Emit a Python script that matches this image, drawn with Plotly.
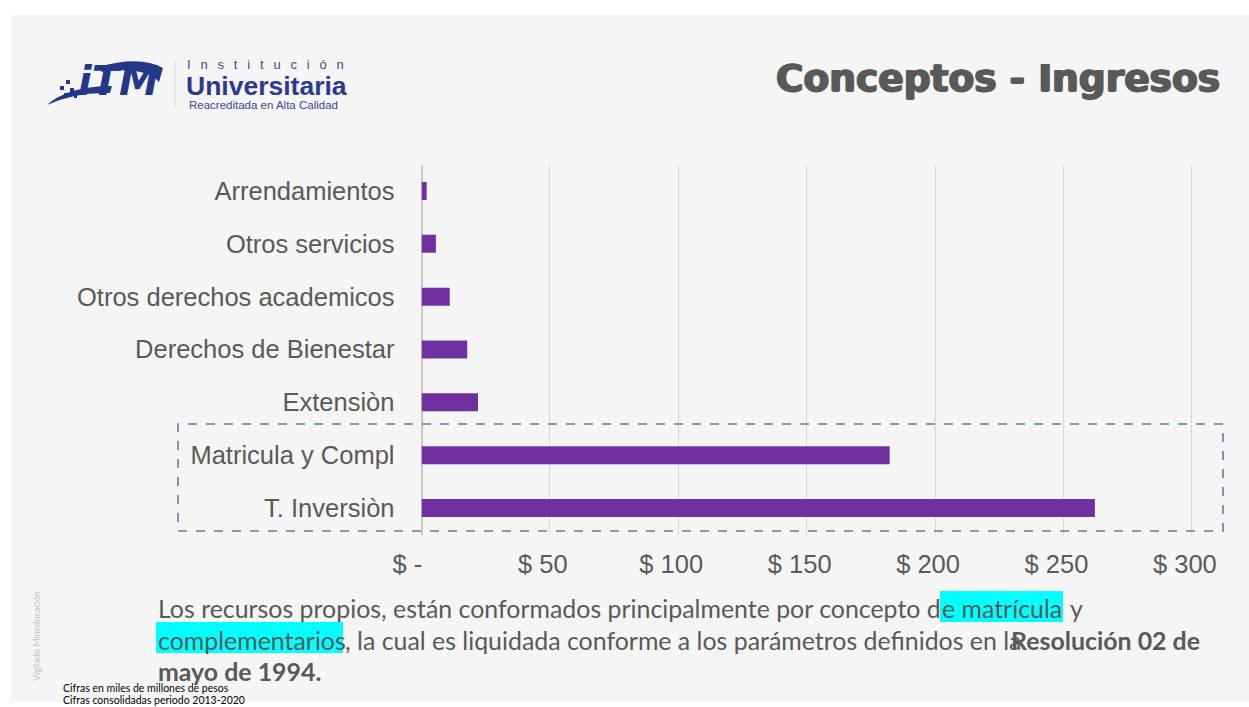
import plotly.graph_objects as go

W, H = 1249, 707

categories = ["Arrendamientos", "Otros servicios", "Otros derechos academicos",
              "Derechos de Bienestar", "Extensiòn", "Matricula y Compl", "T. Inversiòn"]
values = [2.0, 5.6, 11.0, 17.8, 22.0, 182.3, 262.2]
tick_vals = [0, 50, 100, 150, 200, 250, 300]
tick_text = ["$ -", "$ 50", "$ 100", "$ 150", "$ 200", "$ 250", "$ 300"]


def px(x):
    return x / W


def py(y):
    return 1 - y / H


TXT = "#595959"
NB = "\u00a0"
fig = go.Figure()
fig.add_trace(go.Bar(
    x=values, y=categories, orientation="h",
    marker=dict(color="#7030A0", line=dict(width=0)),
    hoverinfo="x+y",
))

# accounting-format padding (Excel right-pads these labels)
tick_disp = [t + NB * (4 if t.endswith("-") else 2) for t in tick_text]

x0p, x300p = 421.5, 1192.0
fig.update_layout(
    width=W, height=H,
    margin=dict(l=0, r=0, t=0, b=0),
    paper_bgcolor="white",
    plot_bgcolor="rgba(0,0,0,0)",
    showlegend=False,
    bargap=0.66,
    xaxis=dict(
        domain=[px(x0p), px(x300p + 1.5)],
        range=[0, 300.6],
        tickvals=tick_vals, ticktext=tick_disp,
        showgrid=True, gridcolor="#D9D9D9", gridwidth=1,
        zeroline=True, zerolinecolor="#C8C8C8", zerolinewidth=2,
        showline=False, ticks="",
        tickfont=dict(family="Liberation Sans, Arial, sans-serif", size=25.5, color=TXT),
        ticklabelstandoff=12,
        automargin=False, fixedrange=True,
    ),
    yaxis=dict(
        domain=[py(534.5), py(164.5)],
        range=[6.5, -0.5],
        type="category",
        showgrid=False, zeroline=False, showline=False, ticks="",
        tickfont=dict(family="Liberation Sans, Arial, sans-serif", size=25.5, color=TXT),
        ticklabelstandoff=26,
        automargin=False, fixedrange=True,
    ),
)

NAVY = "#24388A"
shapes = []
# slide background
shapes.append(dict(type="rect", xref="paper", yref="paper",
                   x0=px(11), x1=px(1249), y0=py(702), y1=py(15),
                   fillcolor="#F5F5F5", line=dict(width=0), layer="below"))
# dashed highlight box
shapes.append(dict(type="rect", xref="paper", yref="paper",
                   x0=px(178), x1=px(1223), y0=py(531), y1=py(424),
                   fillcolor="rgba(0,0,0,0)",
                   line=dict(color="#5A7FA8", width=1.6, dash="dash"), layer="above"))
# cyan highlights
shapes.append(dict(type="rect", xref="paper", yref="paper",
                   x0=px(940), x1=px(1063), y0=py(622), y1=py(591),
                   fillcolor="#00FFFF", line=dict(width=0), layer="below"))
shapes.append(dict(type="rect", xref="paper", yref="paper",
                   x0=px(156), x1=px(343), y0=py(653), y1=py(622),
                   fillcolor="#00FFFF", line=dict(width=0), layer="below"))
# logo divider
shapes.append(dict(type="line", xref="paper", yref="paper",
                   x0=px(175), x1=px(175), y0=py(108), y1=py(60),
                   line=dict(color="#D8D8D8", width=1)))


def pathstr(cmds):
    out = []
    for c in cmds:
        if isinstance(c, str):
            out.append(c)
        else:
            out.append("{:.5f},{:.5f}".format(px(c[0]), py(c[1])))
    return " ".join(out)


# logo swoosh (lower-left crescent)
sw1 = pathstr(["M", (47, 105), "Q", (68, 86), (112, 86), "L", (110, 93),
               "Q", (75, 92), (47, 105), "Z"])
# logo swoosh (upper-right arc)
sw2 = pathstr(["M", (98, 67), "Q", (140, 55), (163, 68), "L", (159, 82),
               "Q", (145, 66), (102, 72), "Z"])
for p in (sw1, sw2):
    shapes.append(dict(type="path", xref="paper", yref="paper", path=p,
                       fillcolor=NAVY, line=dict(width=0)))
# small pixel squares of the logo
for (sx, sy, s) in [(66, 80, 4), (60, 86, 4), (70, 88, 4), (64, 93, 3), (74, 95, 3)]:
    shapes.append(dict(type="rect", xref="paper", yref="paper",
                       x0=px(sx), x1=px(sx + s), y0=py(sy + s), y1=py(sy),
                       fillcolor=NAVY, line=dict(width=0)))
fig.update_layout(shapes=shapes)

ann = []


def add_text(x, y, text, size, color=TXT, family="Lato, sans-serif", xanchor="left",
             weight=None, textangle=0, shadow=None):
    f = dict(family=family, size=size, color=color)
    if weight:
        f["weight"] = weight
    if shadow:
        f["shadow"] = shadow
    ann.append(dict(xref="paper", yref="paper", x=px(x), y=py(y), text=text,
                    showarrow=False, xanchor=xanchor, yanchor="middle",
                    font=f, textangle=textangle))


# title (heavy, Arial-Black-like)
add_text(1222, 78, "Conceptos - Ingresos", 37.5, color="#595959",
         family="DejaVu Sans, sans-serif", xanchor="right", weight=900,
         shadow="1px 0 0 #595959, -1px 0 0 #595959, 0 1px 0 #595959")

# logo texts
add_text(76, 81, "<i><b>iTM</b></i>", 40, color=NAVY,
         family="DejaVu Sans, sans-serif")
add_text(185, 64, (NB * 2 + "\u2009").join("Institución"), 13, color="#3A4A8C",
         family="Liberation Sans, Arial, sans-serif")
add_text(184, 86, "<b>Universitaria</b>", 26.5, color="#2B3990",
         family="Liberation Sans, Arial, sans-serif")
add_text(187, 105, "Reacreditada en Alta Calidad", 11.5, color="#3A4A8C",
         family="Liberation Sans, Arial, sans-serif")

# paragraph
PF = "Lato, sans-serif"
PS = 24.9
add_text(156, 608, "Los recursos propios, están conformados principalmente por concepto d", PS, family=PF)
add_text(940, 608, "e matrícula", PS, family=PF)
add_text(1068, 608, "y", PS, family=PF)
add_text(156, 640, "complementarios", PS, family=PF)
add_text(343, 640, ", la cual es liquidada conforme a los parámetros definidos en la", PS, family=PF)
add_text(1202, 640, "<b>Resolución 02 de</b>", PS, family=PF, xanchor="right")
add_text(156, 671, "<b>mayo de 1994.</b>", PS, family=PF)

# footnotes
add_text(61, 688, "Cifras en miles de millones de pesos", 10.5, color="#000000", family=PF)
add_text(61, 700, "Cifras consolidadas periodo 2013-2020", 10.5, color="#000000", family=PF)

# watermark
add_text(36, 636, "Vigilado Mineducación", 9, color="#C4C4C4", family=PF,
         xanchor="center", textangle=-90)

fig.update_layout(annotations=ann)
fig.write_html("out.html", config={"displayModeBar": False},
               post_script="document.body.style.margin='0';document.body.style.overflow='hidden';")
